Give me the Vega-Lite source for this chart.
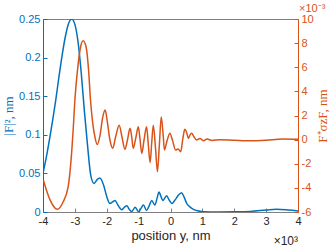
{
  "$schema": "https://vega.github.io/schema/vega-lite/v6.json",
  "width": 255,
  "height": 193,
  "autosize": {"type": "none"},
  "padding": {"left": 43, "top": 19, "right": 34, "bottom": 37},
  "background": "white",
  "config": {
    "view": {"stroke": "#808080", "strokeWidth": 1},
    "font": "Liberation Sans",
    "axis": {"grid": false, "labelFontSize": 11, "titleFontSize": 13, "titleFontWeight": "normal", "tickSize": -4, "labelPadding": 7, "domainWidth": 1, "tickWidth": 1}
  },
  "layer": [
    {
      "data": {"values": [
        {"x": -4.0, "y": 0.05}, {"x": -3.9, "y": 0.07}, {"x": -3.8, "y": 0.093}, {"x": -3.7, "y": 0.118},
        {"x": -3.6, "y": 0.145}, {"x": -3.5, "y": 0.175}, {"x": -3.4, "y": 0.203}, {"x": -3.3, "y": 0.227},
        {"x": -3.2, "y": 0.244}, {"x": -3.1, "y": 0.25}, {"x": -3.0, "y": 0.243}, {"x": -2.9, "y": 0.22},
        {"x": -2.8, "y": 0.18}, {"x": -2.7, "y": 0.13}, {"x": -2.6, "y": 0.085}, {"x": -2.5, "y": 0.047},
        {"x": -2.4, "y": 0.037}, {"x": -2.3, "y": 0.042}, {"x": -2.22, "y": 0.044}, {"x": -2.1, "y": 0.035},
        {"x": -2.0, "y": 0.02}, {"x": -1.9, "y": 0.011}, {"x": -1.82, "y": 0.013}, {"x": -1.74, "y": 0.015},
        {"x": -1.65, "y": 0.009}, {"x": -1.53, "y": 0.003}, {"x": -1.45, "y": 0.006}, {"x": -1.37, "y": 0.008},
        {"x": -1.3, "y": 0.004}, {"x": -1.22, "y": 0.0005}, {"x": -1.11, "y": 0.006}, {"x": -1.05, "y": 0.003},
        {"x": -1.0, "y": 0.0}, {"x": -0.92, "y": 0.005}, {"x": -0.85, "y": 0.009}, {"x": -0.75, "y": 0.002},
        {"x": -0.67, "y": 0.008}, {"x": -0.59, "y": 0.015}, {"x": -0.49, "y": 0.009}, {"x": -0.42, "y": 0.018},
        {"x": -0.36, "y": 0.026}, {"x": -0.3, "y": 0.02}, {"x": -0.24, "y": 0.015}, {"x": -0.12, "y": 0.021},
        {"x": -0.05, "y": 0.016}, {"x": 0.04, "y": 0.011}, {"x": 0.15, "y": 0.016}, {"x": 0.25, "y": 0.022},
        {"x": 0.35, "y": 0.025}, {"x": 0.43, "y": 0.019}, {"x": 0.51, "y": 0.011}, {"x": 0.6, "y": 0.007},
        {"x": 0.72, "y": 0.0035}, {"x": 0.85, "y": 0.0015}, {"x": 1.03, "y": 0.0004}, {"x": 1.5, "y": 0.0},
        {"x": 2.0, "y": 0.0002}, {"x": 2.5, "y": 0.0008}, {"x": 3.0, "y": 0.0025}, {"x": 3.33, "y": 0.0035},
        {"x": 3.7, "y": 0.0025}, {"x": 4.0, "y": 0.0013}
      ]},
      "mark": {"type": "line", "color": "#0072BD", "strokeWidth": 1.5, "interpolate": "monotone", "clip": true},
      "encoding": {
        "x": {"field": "x", "type": "quantitative", "scale": {"domain": [-4, 4], "nice": false, "zero": false},
          "axis": {"orient": "bottom", "values": [-4, -3, -2, -1, 0, 1, 2, 3, 4], "labelExpr": "'' + datum.value", "labelFlush": false, "labelOverlap": false,
            "title": "position y, nm", "domainColor": "#808080", "tickColor": "#808080", "labelColor": "#262626", "titleColor": "#262626", "titlePadding": 3}},
        "y": {"field": "y", "type": "quantitative", "scale": {"domain": [0, 0.25], "nice": false, "zero": false},
          "axis": {"orient": "left", "values": [0, 0.05, 0.1, 0.15, 0.2, 0.25], "labelExpr": "'' + datum.value", "labelOverlap": false,
            "title": "|F|², nm", "titleFont": "Liberation Serif", "domainColor": "#0072BD", "tickColor": "#0072BD", "labelColor": "#0072BD", "titleColor": "#0072BD", "titlePadding": 3}}
      }
    },
    {
      "data": {"values": [
        {"x": -3.99, "y": -3.35}, {"x": -3.78, "y": -5.0}, {"x": -3.55, "y": -5.78}, {"x": -3.37, "y": -5.17},
        {"x": -3.21, "y": -3.9}, {"x": -3.12, "y": -1.7}, {"x": -3.05, "y": 0.96}, {"x": -3.0, "y": 3.28},
        {"x": -2.9, "y": 6.2}, {"x": -2.82, "y": 7.7}, {"x": -2.74, "y": 8.2}, {"x": -2.65, "y": 7.7},
        {"x": -2.57, "y": 5.77}, {"x": -2.51, "y": 3.28}, {"x": -2.45, "y": 1.6}, {"x": -2.37, "y": 0.2},
        {"x": -2.3, "y": -0.4}, {"x": -2.21, "y": 0.38}, {"x": -2.13, "y": 1.8}, {"x": -2.05, "y": 2.45},
        {"x": -1.98, "y": 1.46}, {"x": -1.9, "y": -0.03}, {"x": -1.81, "y": -0.72}, {"x": -1.73, "y": 0.13},
        {"x": -1.61, "y": 1.2}, {"x": -1.52, "y": 0.2}, {"x": -1.43, "y": -0.8}, {"x": -1.35, "y": -0.03},
        {"x": -1.27, "y": 0.94}, {"x": -1.22, "y": 0.3}, {"x": -1.17, "y": -0.72}, {"x": -1.09, "y": 0.13},
        {"x": -1.01, "y": 1.07}, {"x": -0.96, "y": 0.13}, {"x": -0.9, "y": -1.14}, {"x": -0.83, "y": -0.03},
        {"x": -0.75, "y": 1.07}, {"x": -0.7, "y": -0.28}, {"x": -0.64, "y": -1.9}, {"x": -0.59, "y": -0.28},
        {"x": -0.54, "y": 1.2}, {"x": -0.47, "y": -0.7}, {"x": -0.41, "y": -2.66}, {"x": -0.35, "y": -0.45},
        {"x": -0.29, "y": 1.87}, {"x": -0.23, "y": 0.38}, {"x": -0.19, "y": -0.86}, {"x": -0.11, "y": -0.12},
        {"x": -0.02, "y": 0.52}, {"x": 0.06, "y": -0.03}, {"x": 0.16, "y": -0.86}, {"x": 0.24, "y": -0.78},
        {"x": 0.32, "y": -1.0}, {"x": 0.39, "y": 0.13}, {"x": 0.45, "y": 0.85}, {"x": 0.51, "y": 0.55},
        {"x": 0.56, "y": 0.1}, {"x": 0.61, "y": 0.38}, {"x": 0.66, "y": 0.52}, {"x": 0.74, "y": 0.22},
        {"x": 0.82, "y": -0.03}, {"x": 0.93, "y": 0.1}, {"x": 1.03, "y": -0.09}, {"x": 1.15, "y": 0.05},
        {"x": 1.3, "y": -0.07}, {"x": 1.55, "y": 0.0}, {"x": 2.0, "y": -0.05}, {"x": 2.5, "y": -0.1},
        {"x": 3.0, "y": -0.05}, {"x": 3.5, "y": 0.05}, {"x": 4.0, "y": 0.03}
      ]},
      "mark": {"type": "line", "color": "#D95319", "strokeWidth": 1.5, "interpolate": "monotone", "clip": true},
      "encoding": {
        "x": {"field": "x", "type": "quantitative", "scale": {"domain": [-4, 4], "nice": false, "zero": false},
          "axis": {"orient": "bottom", "values": [-4, -3, -2, -1, 0, 1, 2, 3, 4], "labelExpr": "'' + datum.value", "labelFlush": false, "labelOverlap": false,
            "title": "position y, nm", "domainColor": "#808080", "tickColor": "#808080", "labelColor": "#262626", "titleColor": "#262626", "titlePadding": 3}},
        "y": {"field": "y", "type": "quantitative", "scale": {"domain": [-6, 10], "nice": false, "zero": false},
          "axis": {"orient": "right", "values": [-6, -4, -2, 0, 2, 4, 6, 8, 10], "labelExpr": "'' + datum.value", "labelOverlap": false,
            "title": "F⁺σzF, nm", "titleFont": "Liberation Serif", "titleAngle": 270, "titleBaseline": "top", "domainColor": "#D95319", "tickColor": "#D95319", "labelColor": "#D95319", "titleColor": "#D95319", "titlePadding": 3}}
      }
    },
    {
      "data": {"values": [{"label": "×10³"}]},
      "mark": {"type": "text", "align": "right", "baseline": "top", "dy": 24, "dx": 0, "fontSize": 12, "color": "#262626"},
      "encoding": {
        "x": {"datum": 4, "type": "quantitative",
          "axis": {"orient": "bottom", "values": [-4, -3, -2, -1, 0, 1, 2, 3, 4], "labelExpr": "'' + datum.value", "labelFlush": false, "labelOverlap": false,
            "title": "position y, nm", "domainColor": "#808080", "tickColor": "#808080", "labelColor": "#262626", "titleColor": "#262626", "titlePadding": 3}},
        "y": {"datum": 0, "type": "quantitative", "scale": {"domain": [0, 0.25], "nice": false, "zero": false}, "axis": null},
        "text": {"field": "label", "type": "nominal"}
      }
    },
    {
      "data": {"values": [{"label": "×10⁻³"}]},
      "mark": {"type": "text", "align": "left", "baseline": "bottom", "dy": -5, "dx": 1, "fontSize": 11, "color": "#D95319"},
      "encoding": {
        "x": {"datum": 4, "type": "quantitative",
          "axis": {"orient": "bottom", "values": [-4, -3, -2, -1, 0, 1, 2, 3, 4], "labelExpr": "'' + datum.value", "labelFlush": false, "labelOverlap": false,
            "title": "position y, nm", "domainColor": "#808080", "tickColor": "#808080", "labelColor": "#262626", "titleColor": "#262626", "titlePadding": 3}},
        "y": {"datum": 10, "type": "quantitative", "scale": {"domain": [-6, 10], "nice": false, "zero": false}, "axis": null},
        "text": {"field": "label", "type": "nominal"}
      }
    }
  ],
  "resolve": {"scale": {"y": "independent"}}
}
